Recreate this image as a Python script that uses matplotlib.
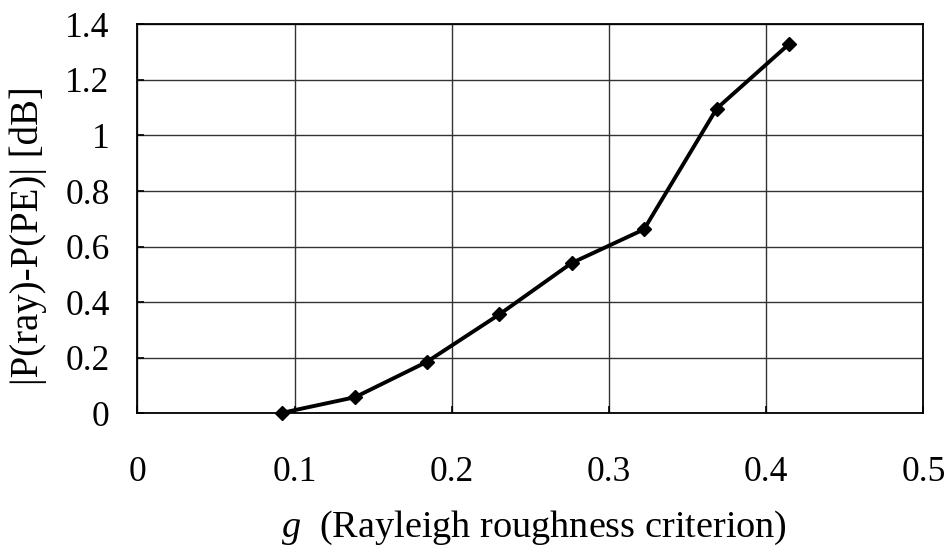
import matplotlib
matplotlib.use("Agg")
import matplotlib.pyplot as plt

# Data
g_values = [0.0922, 0.1385, 0.1841, 0.2303, 0.2763, 0.3223, 0.3686, 0.4148]
power_diff_db = [0.002, 0.058, 0.185, 0.356, 0.541, 0.662, 1.097, 1.330]

x_ticks = [0, 0.1, 0.2, 0.3, 0.4, 0.5]
x_tick_labels = ["0", "0.1", "0.2", "0.3", "0.4", "0.5"]
y_ticks = [0, 0.2, 0.4, 0.6, 0.8, 1.0, 1.2, 1.4]
y_tick_labels = ["0", "0.2", "0.4", "0.6", "0.8", "1", "1.2", "1.4"]

plt.rcParams['font.family'] = ['Liberation Serif', 'DejaVu Serif']
plt.rcParams['mathtext.fontset'] = 'custom'
plt.rcParams['mathtext.rm'] = 'Liberation Serif'
plt.rcParams['mathtext.it'] = 'Liberation Serif:italic'

fig = plt.figure(figsize=(9.51, 5.5), dpi=100)
ax = fig.add_axes([0.1444, 0.2485, 0.8265, 0.7073])

ax.plot(g_values, power_diff_db, color='black', linewidth=2.8,
        marker='D', markersize=7.5, markerfacecolor='black',
        markeredgecolor='black', zorder=3, clip_on=False)

ax.set_xlim(0, 0.5)
ax.set_ylim(0, 1.4)
ax.set_xticks(x_ticks)
ax.set_xticklabels(x_tick_labels)
ax.set_yticks(y_ticks)
ax.set_yticklabels(y_tick_labels)

ax.grid(True, color='#333333', linewidth=1.0)
ax.set_axisbelow(True)
for s in ax.spines.values():
    s.set_color('black')
    s.set_linewidth(1.3)

ax.tick_params(axis='both', direction='in', length=5, width=1.2,
               colors='black', labelsize=25.5)
ax.tick_params(axis='x', pad=31)
ax.tick_params(axis='y', pad=20)

ax.set_xlabel(r"$g$  (Rayleigh roughness criterion)", fontsize=27.5)
ax.xaxis.label.set_va('center')
ax.xaxis.set_label_coords(0.505, -0.295)

ax.set_ylabel("|P(ray)-P(PE)| [dB]", fontsize=28)
ax.yaxis.label.set_va('center')
ax.yaxis.set_label_coords(-0.1385, 0.458)

fig.savefig("out.png", dpi=100)
